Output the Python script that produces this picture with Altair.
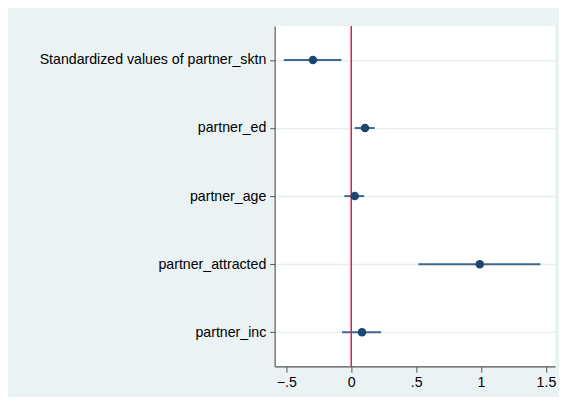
import altair as alt
import pandas as pd

terms = ["Standardized values of partner_sktn", "partner_ed", "partner_age",
         "partner_attracted", "partner_inc"]
coef = [-0.295, 0.106, 0.027, 0.99, 0.083]
ci_low = [-0.52, 0.027, -0.053, 0.517, -0.071]
ci_high = [-0.076, 0.18, 0.10, 1.457, 0.23]
xline = [0]
x_ticks = [-0.5, 0, 0.5, 1, 1.5]

df = pd.DataFrame({"term": terms, "coef": coef, "lo": ci_low, "hi": ci_high})

navy = "#1a476f"
xscale = alt.Scale(domain=[-0.59, 1.57], nice=False, zero=False)
yscale = alt.Scale(domain=terms, type="point", padding=0.5)

xaxis = alt.Axis(values=x_ticks, title=None, grid=False, tickSize=6, labelPadding=4,
                 labelExpr="replace(format(datum.value, '~g'), '0.', '.')")
yaxis = alt.Axis(title=None, grid=True, gridColor="#e6eef0", gridWidth=1.5,
                 tickSize=5, labelPadding=4, minExtent=262, maxExtent=262,
                 labelLimit=300)

yenc = alt.Y("term:N", scale=yscale, axis=yaxis)

base = alt.Chart(df)
ci = base.mark_rule(color="#3d6990", strokeWidth=2).encode(
    x=alt.X("lo:Q", scale=xscale, axis=xaxis),
    x2="hi:Q",
    y=yenc,
)
zero = alt.Chart(pd.DataFrame({"x": xline})).mark_rule(
    color="#d81e45", strokeWidth=1.5
).encode(x=alt.X("x:Q", scale=xscale, axis=xaxis))
pts = base.mark_circle(size=75, opacity=1, color=navy).encode(
    x=alt.X("coef:Q", scale=xscale, axis=xaxis),
    y=yenc,
)

chart = (
    alt.layer(ci, zero, pts)
    .properties(
        width=285, height=346, background="#eaf2f3",
        padding={"left": 9, "top": 14, "right": 3, "bottom": 4},
    )
    .configure_view(fill="white", stroke=None)
    .configure_axis(
        domainColor="#555555", tickColor="#555555", labelColor="#000000",
        labelFont="Liberation Sans", labelFontSize=14.4, domainWidth=1.2,
    )
)

chart.save("out.html", embed_options={"renderer": "svg", "actions": False})
